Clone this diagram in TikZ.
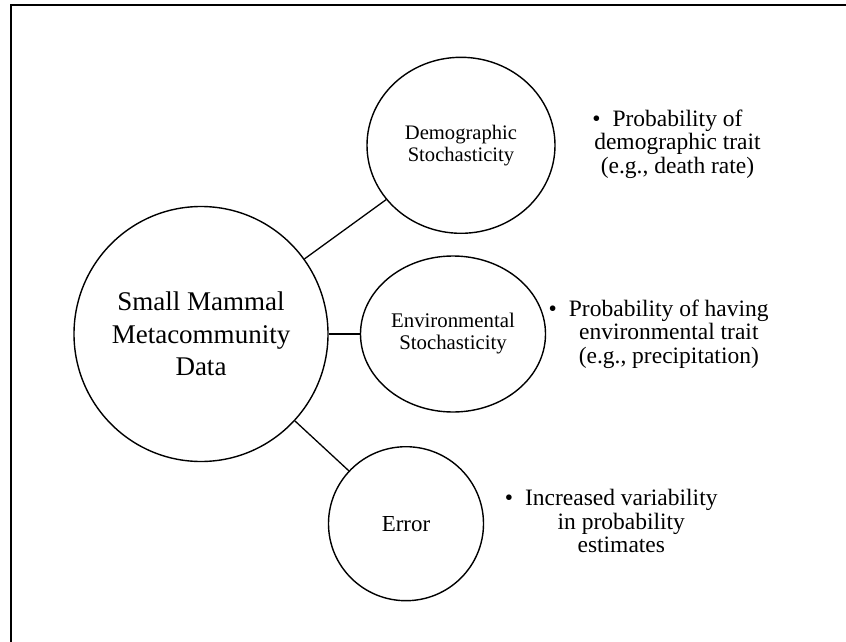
\documentclass[tikz,border=0pt]{standalone}
\usepackage{fontspec}
\setmainfont{Liberation Serif}
\usetikzlibrary{shapes.geometric}
\tikzset{
  bubble/.style={draw=black, line width=1.4pt, ellipse, inner sep=0pt, align=center},
  note/.style={align=center, inner sep=0pt, font=\fontsize{23.5}{23.5}\selectfont},
  link/.style={draw=black, line width=1.3pt},
}
\newcommand{\bul}{\llap{\textbullet\hspace{12pt}}}
\begin{document}
\begin{tikzpicture}[x=1pt,y=-1pt]
\useasboundingbox (0,0) rectangle (846,642);
\draw[line width=2.2pt] (846,5) -- (11,5) -- (11,642);

\node[bubble, minimum width=254pt, minimum height=255pt,
      font=\fontsize{27}{32.5}\selectfont] (big) at (201,334)
  {Small Mammal\\Metacommunity\\Data};
\node[bubble, minimum width=188pt, minimum height=176pt,
      font=\fontsize{20.6}{21.7}\selectfont] (demo) at (461,145.3)
  {Demographic\\Stochasticity};
\node[bubble, minimum width=185pt, minimum height=156pt,
      font=\fontsize{20.8}{22}\selectfont] (env) at (453,334)
  {Environmental\\Stochasticity};
\node[bubble, minimum width=155pt, minimum height=154pt,
      font=\fontsize{22.9}{24}\selectfont] (err) at (406,523.7)
  {Error};

\draw[link] (big) -- (demo);
\draw[link] (big) -- (env);
\draw[link] (big) -- (err);

\node[note] (demotxt) at (677.5,144)
  {\bul Probability of\\demographic trait\\(e.g., death rate)};
\node[note] (envtxt) at (668.8,334)
  {\bul Probability of having\\environmental trait\\(e.g., precipitation)};
\node[note] (errtxt) at (621.3,521)
  {\bul Increased variability\\in probability\\estimates};
\end{tikzpicture}
\end{document}
